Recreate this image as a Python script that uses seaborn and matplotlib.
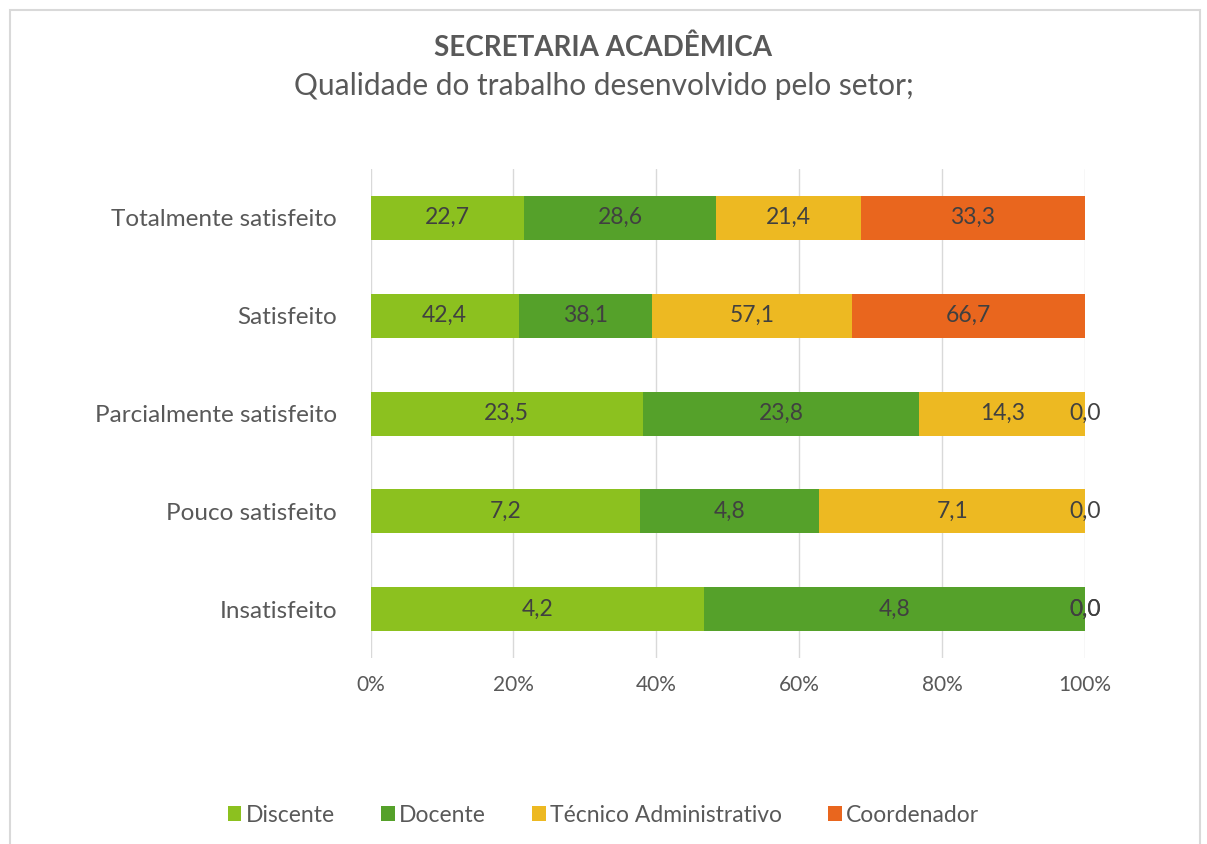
import numpy as np
import pandas as pd
import seaborn as sns
import matplotlib.pyplot as plt
from matplotlib.patches import Rectangle

categorias = ["Totalmente satisfeito", "Satisfeito", "Parcialmente satisfeito",
              "Pouco satisfeito", "Insatisfeito"]
discente = [22.7, 42.4, 23.5, 7.2, 4.2]
docente = [28.6, 38.1, 23.8, 4.8, 4.8]
tecnico = [21.4, 57.1, 14.3, 7.1, 0.0]
coordenador = [33.3, 66.7, 0.0, 0.0, 0.0]

series = {
    "Discente": discente,
    "Docente": docente,
    "Técnico Administrativo": tecnico,
    "Coordenador": coordenador,
}
cores = ["#8CC11F", "#55A12A", "#EDB922", "#E9661E"]

sns.set_style("white")
plt.rcParams["font.family"] = ["Liberation Sans Narrow", "Lato", "DejaVu Sans"]
texto = "#595959"

df = pd.DataFrame(series, index=categorias)
pct = df.div(df.sum(axis=1), axis=0) * 100

fig = plt.figure(figsize=(12.07, 8.44), dpi=100)
ax = fig.add_axes([0.307, 0.22, 0.592, 0.58])

esquerda = np.zeros(len(categorias))
for (nome, valores), cor in zip(series.items(), cores):
    sns.barplot(x=pct[nome].values, y=categorias, order=categorias, color=cor,
                left=esquerda, width=0.45, label=nome, orient="h", ax=ax,
                linewidth=0, saturation=1)
    # rótulos no centro de cada segmento
    for i, v in enumerate(valores):
        meio = esquerda[i] + pct[nome].values[i] / 2
        ax.text(meio, i, f"{v:.1f}".replace(".", ","), ha="center", va="center",
                fontsize=16.5, color="#404040")
    esquerda = esquerda + pct[nome].values

ax.set_xlim(0, 100)
ax.set_xticks(range(0, 101, 20))
ax.set_xticklabels([f"{t}%" for t in range(0, 101, 20)], fontsize=15, color=texto)
ax.tick_params(axis="y", labelsize=17.5, labelcolor=texto, length=0, pad=24)
ax.tick_params(axis="x", length=0, pad=12)
ax.set_xlabel("")
ax.set_ylabel("")
ax.grid(axis="x", color="#D9D9D9", linewidth=1)
ax.set_axisbelow(True)
sns.despine(ax=ax, left=True, bottom=True)

ax.get_legend().remove()
handles, labels = ax.get_legend_handles_labels()
fig.legend(handles, labels, loc="center", bbox_to_anchor=(0.5, 0.034), ncol=4,
           frameon=False, fontsize=16.5, labelcolor=texto, handlelength=0.6,
           handleheight=0.6, handletextpad=0.2, columnspacing=2.0)

fig.text(0.5, 0.944, "SECRETARIA ACADÊMICA", ha="center", va="center",
         fontsize=20, fontweight="bold", color=texto)
fig.text(0.5, 0.898, "Qualidade do trabalho desenvolvido pelo setor;", ha="center",
         va="center", fontsize=21.5, color=texto)

fig.patches.append(Rectangle((0.008, -0.01), 0.986, 0.998, transform=fig.transFigure,
                             fill=False, edgecolor="#D9D9D9", linewidth=1.5))

fig.savefig("out.png", dpi=100)
